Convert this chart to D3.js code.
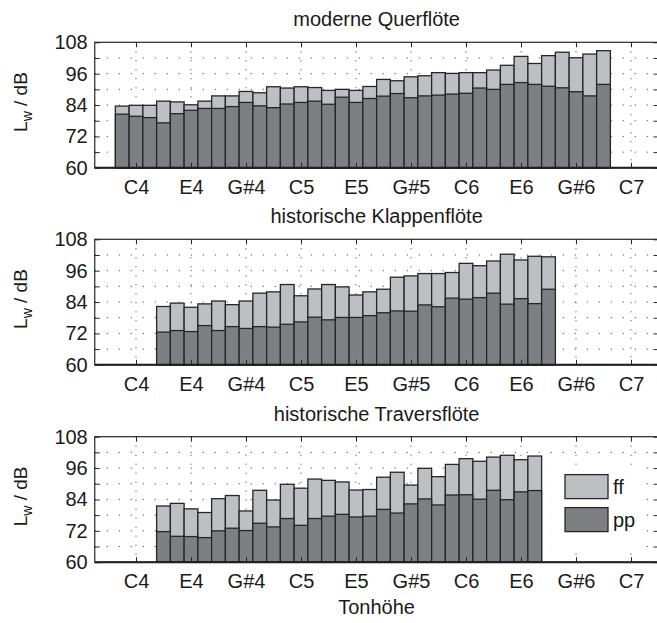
<!DOCTYPE html>
<html>
<head>
<meta charset="utf-8">
<script src="https://cdn.jsdelivr.net/npm/d3@7"></script>
<style>
  body { margin: 0; background: #fff; }
  svg { display: block; font-family: "Liberation Sans", Arial, sans-serif; }
</style>
</head>
<body>
<svg id="chart" width="657" height="623"></svg>
<script>
// note index: C4 = 0, one step per semitone
var tickNotes = [0, 4, 8, 12, 16, 20, 24, 28, 32, 36];
var tickLabels = ["C4", "E4", "G#4", "C5", "E5", "G#5", "C6", "E6", "G#6", "C7"];
var yTicks = [60, 72, 84, 96, 108];
var yMinor = [60, 66, 72, 78, 84, 90, 96, 102, 108];
var yGrid = [66, 72, 78, 84, 90, 96, 102];

var titles = ["moderne Querflöte", "historische Klappenflöte", "historische Traversflöte"];
var firstNote = [-1, 2, 2];

// moderne Querflöte, B3 .. A#6
var modernFF = [83.6, 83.9, 83.9, 85.5, 85.2, 84.1, 85.5, 87.5, 87.5, 89.2, 88.7, 91.0,
  90.5, 91.0, 90.7, 89.6, 90.0, 89.6, 91.1, 93.8, 93.3, 94.8, 95.2, 96.4, 96.1, 96.4,
  96.4, 97.4, 99.2, 102.6, 99.9, 102.9, 104.2, 102.1, 103.5, 104.8];
var modernPP = [80.5, 79.7, 79.2, 77.2, 80.7, 82.0, 82.7, 82.7, 83.4, 85.0, 83.7, 83.0,
  84.4, 85.0, 85.5, 84.3, 87.0, 85.0, 86.5, 87.4, 88.4, 86.8, 87.5, 87.8, 88.2, 88.5,
  90.5, 90.0, 91.9, 92.6, 91.9, 91.2, 90.6, 89.1, 87.5, 91.9];

// historische Klappenflöte, D4 .. F#6
var klappeFF = [82.3, 83.6, 82.0, 83.3, 84.4, 83.0, 84.4, 87.4, 87.9, 90.7, 86.4, 89.0,
  90.7, 89.8, 86.7, 87.9, 88.9, 93.5, 94.0, 94.9, 94.9, 95.3, 98.8, 97.9, 99.7, 102.3,
  100.1, 101.5, 101.3];
var klappePP = [72.5, 73.1, 72.7, 75.0, 73.1, 74.6, 73.9, 74.6, 74.4, 75.5, 76.4, 78.2,
  77.2, 78.1, 78.1, 78.8, 79.9, 80.6, 80.5, 82.9, 82.2, 85.5, 85.1, 85.7, 87.4, 83.2,
  85.3, 83.4, 88.9];

// historische Traversflöte, D4 .. F6
var traversFF = [81.5, 82.5, 80.4, 79.0, 84.3, 85.5, 79.6, 87.5, 83.8, 89.8, 88.3, 91.8,
  91.3, 90.7, 87.6, 87.8, 92.5, 94.4, 89.5, 95.9, 92.7, 97.4, 99.6, 98.6, 100.2, 100.9,
  99.2, 100.6];
var traversPP = [71.7, 69.9, 69.8, 69.4, 72.0, 73.0, 72.1, 74.9, 73.5, 76.7, 74.1, 76.7,
  77.6, 78.3, 77.3, 77.6, 80.2, 78.8, 82.3, 84.2, 81.9, 85.7, 85.8, 84.1, 87.5, 83.9,
  86.9, 87.4];

var ffSeries = [modernFF, klappeFF, traversFF];
var ppSeries = [modernPP, klappePP, traversPP];

var svg = d3.select("#chart");
var left = 94.75, right = 658.5;
var panelTop = [42.3, 239.3, 436.7], panelH = 125.5;
var ffColor = "#bebfc3", ppColor = "#7e7f83", ink = "#262626";

var x = d3.scaleLinear().domain([-3, 38]).range([left, right]);
var step = x(1) - x(0);

panelTop.forEach(function(top, p) {
  var y = d3.scaleLinear().domain([60, 108]).range([top + panelH, top]);
  var g = svg.append("g");

  // dotted grid
  g.selectAll(".hgrid").data(yGrid).enter().append("line")
    .attr("x1", left).attr("x2", right)
    .attr("y1", y).attr("y2", y)
    .attr("stroke", "#333").attr("stroke-width", 1)
    .attr("stroke-dasharray", "1,11");
  g.selectAll(".vgrid").data(tickNotes).enter().append("line")
    .attr("x1", x).attr("x2", x)
    .attr("y1", top).attr("y2", top + panelH)
    .attr("stroke", "#333").attr("stroke-width", 1)
    .attr("stroke-dasharray", "1,8");

  // bars: ff behind, pp in front
  var notes = ffSeries[p].map(function(v, i) { return firstNote[p] + i; });
  [[ffSeries[p], ffColor], [ppSeries[p], ppColor]].forEach(function(s) {
    g.selectAll(null).data(s[0]).enter().append("rect")
      .attr("x", function(d, i) { return x(notes[i]) - step / 2; })
      .attr("y", function(d) { return y(d); })
      .attr("width", step)
      .attr("height", function(d) { return y(60) - y(d); })
      .attr("fill", s[1])
      .attr("stroke", ink).attr("stroke-width", 1.3);
  });

  // legend only in last panel
  if (p == 2) {
    var lg = g.append("g");
    lg.append("rect").attr("x", 551).attr("y", y(96.5)).attr("width", 91)
      .attr("height", y(64.5) - y(96.5)).attr("fill", "#fff");
    var items = [["ff", ffColor], ["pp", ppColor]];
    lg.selectAll(null).data(items).enter().append("rect")
      .attr("x", 565).attr("y", function(d, i) { return y(93.5) + i * 33; })
      .attr("width", 43).attr("height", 24)
      .attr("fill", function(d) { return d[1]; })
      .attr("stroke", ink).attr("stroke-width", 1.3);
    lg.selectAll(null).data(items).enter().append("text")
      .attr("x", 613).attr("y", function(d, i) { return y(93.5) + 12 + i * 33; })
      .attr("dy", "0.35em")
      .attr("font-size", 20).attr("fill", "#1a1a1a")
      .text(function(d) { return d[0]; });
  }

  // baseline + box
  g.append("line").attr("x1", left).attr("x2", right)
    .attr("y1", y(60)).attr("y2", y(60))
    .attr("stroke", "#111").attr("stroke-width", 2);
  g.append("rect").attr("x", left).attr("y", top)
    .attr("width", right - left).attr("height", panelH)
    .attr("fill", "none").attr("stroke", ink).attr("stroke-width", 1.2);

  // axes (ticks pointing inward)
  g.append("g").attr("transform", "translate(" + left + ",0)")
    .call(d3.axisLeft(y).tickValues(yTicks).tickSize(0).tickPadding(7));
  g.append("g").attr("transform", "translate(" + left + ",0)")
    .call(d3.axisLeft(y).tickValues(yMinor).tickSize(-5).tickFormat(""));
  g.append("g").attr("transform", "translate(" + right + ",0)")
    .call(d3.axisRight(y).tickValues(yMinor).tickSize(-5).tickFormat(""));
  g.append("g").attr("transform", "translate(0," + (top + panelH) + ")")
    .call(d3.axisBottom(x).tickValues(tickNotes).tickSize(-5).tickPadding(12)
      .tickFormat(function(d, i) { return tickLabels[i]; }));
  g.append("g").attr("transform", "translate(0," + top + ")")
    .call(d3.axisTop(x).tickValues(tickNotes).tickSize(-5).tickFormat(""));
  g.selectAll(".domain").remove();
  g.selectAll(".tick line").attr("stroke", ink);
  g.selectAll(".tick text").attr("font-size", 20).attr("fill", "#1a1a1a")
    .attr("font-family", "Liberation Sans, Arial, sans-serif");

  // title
  g.append("text").attr("x", (left + right) / 2).attr("y", top - 16)
    .attr("text-anchor", "middle").attr("font-size", 20).attr("fill", "#1a1a1a")
    .text(titles[p]);

  // y label
  var yl = g.append("text")
    .attr("transform", "translate(27," + (top + panelH / 2 - 3) + ") rotate(-90)")
    .attr("text-anchor", "middle").attr("font-size", 19).attr("fill", "#1a1a1a");
  yl.append("tspan").text("L");
  yl.append("tspan").attr("font-size", 14).attr("dy", 5).text("w");
  yl.append("tspan").attr("dy", -5).text(" / dB");
});

svg.append("text").attr("x", (left + right) / 2).attr("y", 614)
  .attr("text-anchor", "middle").attr("font-size", 20).attr("fill", "#1a1a1a")
  .text("Tonhöhe");
</script>
</body>
</html>
